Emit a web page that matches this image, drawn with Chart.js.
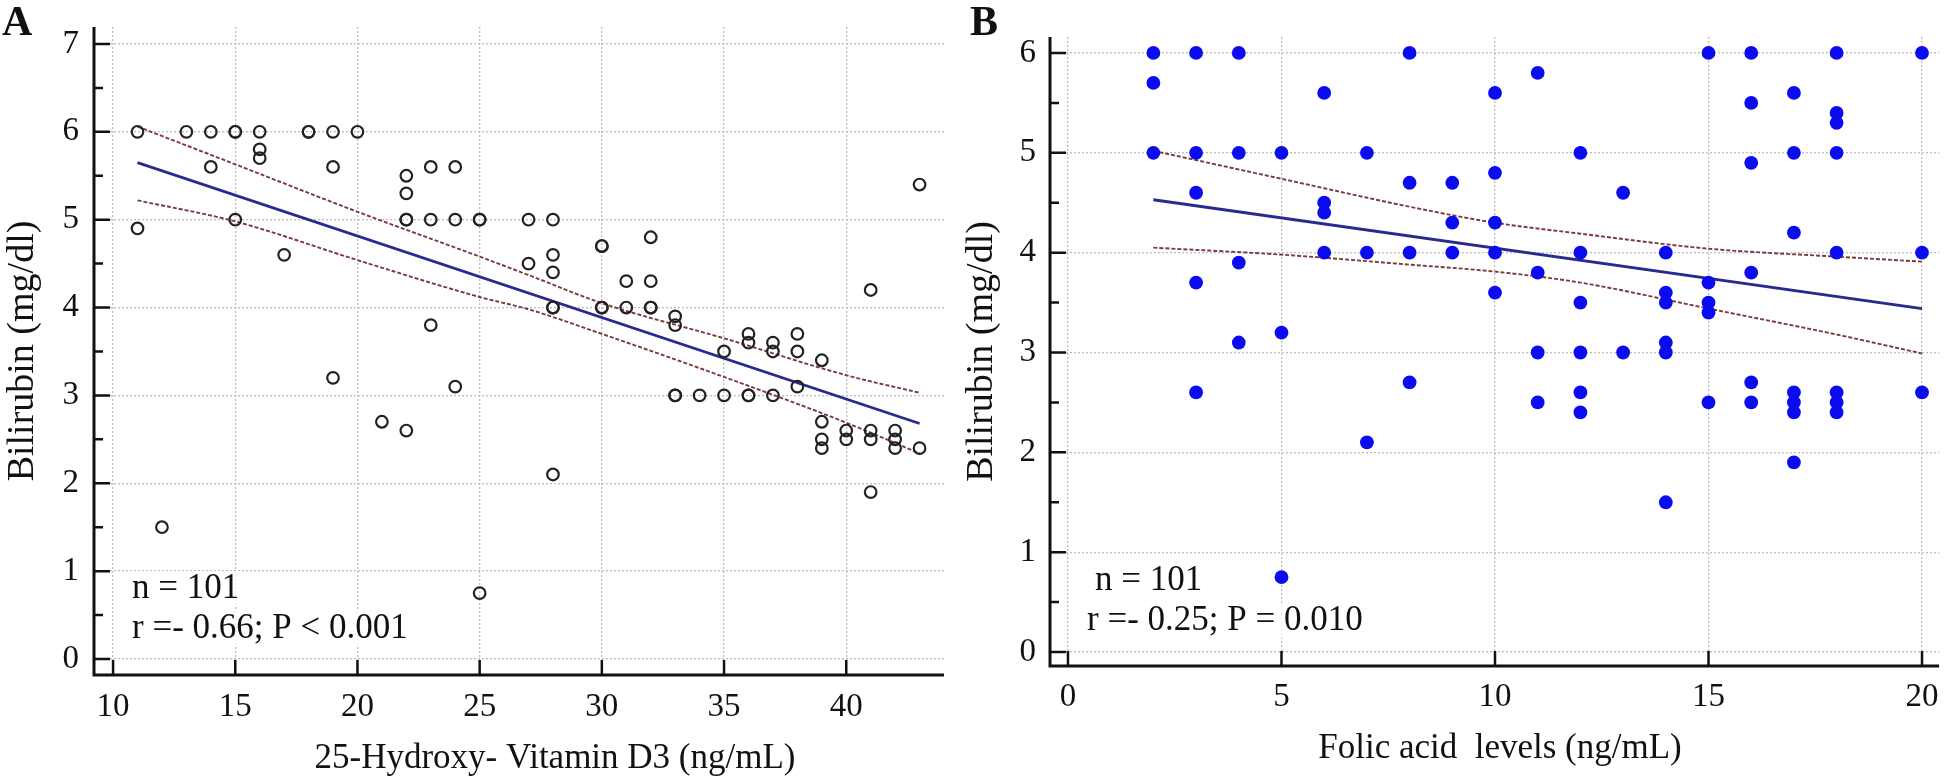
<!DOCTYPE html>
<html>
<head>
<meta charset="utf-8">
<script src="https://cdn.jsdelivr.net/npm/chart.js@4.4.1/dist/chart.umd.min.js"></script>
<style>
  html, body { margin: 0; padding: 0; background: #fff; }
  #wrap { position: relative; width: 1946px; height: 780px; }
  .panel { position: absolute; top: 0; height: 780px; }
  #panel-a { left: 0; width: 960px; }
  #panel-b { left: 960px; width: 986px; }
</style>
</head>
<body>
<div id="wrap">
  <div class="panel" id="panel-a"><canvas id="chart-a"></canvas></div>
  <div class="panel" id="panel-b"><canvas id="chart-b"></canvas></div>
</div>
<script>
// ---- panel A : 25-OH vitamin D3 vs bilirubin ----
// last ten entries are repeats that sit on top of an existing circle
const vitD = [11,11,12,13,14,14,15,15,16,16,16,17,18,19,19,19,20,21,22,22,22,22,23,23,23,24,24,24,25,25,
  27,27,28,28,28,28,28,30,30,31,31,32,32,32,33,33,33,34,35,35,36,36,36,37,37,37,38,38,38,
  39,39,39,39,40,40,41,41,41,41,42,42,42,43,43,
  15,18,22,25,28,30,30,32,33,36];
const biliA = [6,4.9,1.5,6,6,5.6,6,5,6,5.8,5.7,4.6,6,6,5.6,3.2,6,2.7,5.5,5.3,5,2.6,5.6,5,3.8,5.6,5,3.1,5,0.75,
  5,4.5,5,4.6,4.4,4,2.1,4.7,4,4.3,4,4.8,4.3,4,3.9,3.8,3,3,3.5,3,3.7,3.6,3,3.6,3.5,3,3.7,3.5,3.1,
  3.4,2.7,2.5,2.4,2.6,2.5,4.2,2.6,2.5,1.9,2.6,2.5,2.4,5.4,2.4,
  6,6,5,5,4,4.7,4,4,3,3];
const regXA = [11, 43];
const regYA = [5.65, 2.68];
const bandXA = [11, 15, 20, 25, 27, 30, 35, 40, 43];
const upperA = [6.06, 5.63, 5.09, 4.58, 4.37, 4.05, 3.65, 3.23, 3.03];
const lowerA = [5.22, 4.98, 4.54, 4.12, 3.98, 3.70, 3.21, 2.69, 2.34];
const xTicksA = [10, 15, 20, 25, 30, 35, 40];
const yTicksA = [0, 1, 2, 3, 4, 5, 6, 7];

// ---- panel B : folic acid vs bilirubin ----
const folic = [2,2,2, 3,3,3,3,3, 4,4,4,4, 5,5,5, 6,6,6,6, 7,7,7, 8,8,8,8, 9,9,9, 10,10,10,10,10,
  11,11,11,11, 12,12,12,12,12,12, 13,13, 14,14,14,14,14,14, 15,15,15,15,15, 16,16,16,16,16,16,
  17,17,17,17,17,17,17, 18,18,18,18,18,18,18,18, 20,20,20];
const biliB = [6,5.7,5, 6,5,4.6,3.7,2.6, 6,5,3.9,3.1, 5,3.2,0.75, 5.6,4.5,4.4,4, 5,4,2.1, 6,4.7,4,2.7, 4.7,4.3,4,
  5.6,4.8,4.3,4,3.6, 5.8,3.8,3,2.5, 5,4,3.5,3,2.6,2.4, 4.6,3, 4,3.6,3.5,3.1,3,1.5, 6,3.7,3.5,3.4,2.5,
  6,5.5,4.9,3.8,2.7,2.5, 5.6,5,4.2,2.6,2.5,2.4,1.9, 6,5.4,5.3,5,4,2.6,2.5,2.4, 6,4,2.6];
const regXB = [2, 20];
const regYB = [4.53, 3.44];
const bandXB = [2, 5, 8, 10, 12, 15, 18, 20];
const upperB = [5.02, 4.74, 4.46, 4.30, 4.19, 4.04, 3.96, 3.91];
const lowerB = [4.05, 3.98, 3.88, 3.81, 3.70, 3.44, 3.18, 2.99];
const xTicksB = [0, 5, 10, 15, 20];
const yTicksB = [0, 1, 2, 3, 4, 5, 6];

const SERIF = "'Liberation Serif', 'Times New Roman', serif";
const pairs = (xs, ys) => xs.map((x, i) => ({x: x, y: ys[i]}));

// axis lines, inward ticks and the free text of each panel
const framePlugin = {
  id: 'frame',
  afterDraw(chart, args, o) {
    const {ctx, chartArea: a} = chart;
    const x = chart.scales.x, y = chart.scales.y;
    ctx.save();
    ctx.strokeStyle = '#111';
    ctx.lineWidth = 3;
    ctx.beginPath();
    ctx.moveTo(a.left, a.top);
    ctx.lineTo(a.left, a.bottom);
    ctx.lineTo(a.right, a.bottom);
    ctx.stroke();

    ctx.lineWidth = 2.5;
    ctx.beginPath();
    o.yTicks.forEach(v => {
      const p = y.getPixelForValue(v);
      ctx.moveTo(a.left, p); ctx.lineTo(a.left + 16, p);
    });
    o.yTicks.slice(0, -1).forEach(v => {
      const p = y.getPixelForValue(v + 0.5);
      ctx.moveTo(a.left, p); ctx.lineTo(a.left + 9, p);
    });
    o.xTicks.forEach(v => {
      const p = x.getPixelForValue(v);
      ctx.moveTo(p, a.bottom); ctx.lineTo(p, a.bottom - 15);
    });
    ctx.stroke();

    ctx.fillStyle = '#111';
    ctx.textBaseline = 'alphabetic';
    // panel letter
    ctx.font = 'bold 42px ' + SERIF;
    ctx.textAlign = 'left';
    ctx.fillText(o.letter.text, o.letter.x, o.letter.y);
    // x axis title
    ctx.font = '35px ' + SERIF;
    ctx.textAlign = 'center';
    ctx.fillText(o.xTitle.text, o.xTitle.x, o.xTitle.y);
    // n / r annotation
    ctx.font = '35px ' + SERIF;
    ctx.textAlign = 'left';
    o.notes.forEach(n => {
      const w = ctx.measureText(n.text).width;
      ctx.fillStyle = 'rgba(255,255,255,0.75)';
      ctx.fillRect(n.x - 2, n.y - 27, w + 4, 35);
      ctx.fillStyle = '#111';
      ctx.fillText(n.text, n.x, n.y);
    });
    ctx.restore();
  }
};

function makeChart(id, c) {
  return new Chart(document.getElementById(id), {
    type: 'scatter',
    data: {
      datasets: [
        {
          data: pairs(c.px, c.py),
          pointRadius: c.pointRadius,
          pointBackgroundColor: c.pointFill,
          pointBorderColor: c.pointEdge,
          pointBorderWidth: c.pointEdgeWidth,
          clip: false
        },
        {
          data: pairs(c.regX, c.regY),
          showLine: true, pointRadius: 0,
          borderColor: '#2a2a8e', borderWidth: 2.8
        },
        {
          data: pairs(c.bandX, c.upper),
          showLine: true, pointRadius: 0, cubicInterpolationMode: 'monotone',
          borderColor: '#7d3a3a', borderWidth: 1.9, borderDash: [4, 2]
        },
        {
          data: pairs(c.bandX, c.lower),
          showLine: true, pointRadius: 0, cubicInterpolationMode: 'monotone',
          borderColor: '#7d3a3a', borderWidth: 1.9, borderDash: [4, 2]
        }
      ]
    },
    options: {
      responsive: true,
      maintainAspectRatio: false,
      animation: false,
      events: [],
      layout: { padding: { left: 0, top: c.top, right: c.right, bottom: 0 } },
      plugins: {
        legend: { display: false },
        tooltip: { enabled: false },
        frame: {
          xTicks: c.xTicks, yTicks: c.yTicks,
          letter: c.letter, xTitle: c.xTitle, notes: c.notes
        }
      },
      scales: {
        x: {
          type: 'linear',
          min: c.xMin, max: c.xMax,
          afterBuildTicks: s => { s.ticks = c.xTicks.map(v => ({value: v})); },
          afterFit: s => { s.height = c.xAxisHeight; s.paddingLeft = 0; s.paddingRight = 0; },
          grid: { color: '#bdbdbd', lineWidth: 1.3, drawTicks: false },
          border: { display: false, dash: [2, 2] },
          ticks: {
            padding: c.xPad, maxRotation: 0, autoSkip: false,
            color: '#111', font: { family: SERIF, size: 33, lineHeight: 1 },
            callback: v => String(v)
          }
        },
        y: {
          type: 'linear',
          min: c.yMin, max: c.yMax,
          afterBuildTicks: s => { s.ticks = c.yTicks.map(v => ({value: v})); },
          afterFit: s => { s.width = c.yAxisWidth; s.paddingTop = 0; s.paddingBottom = 0; },
          grid: { color: '#bdbdbd', lineWidth: 1.3, drawTicks: false },
          border: { display: false, dash: [2, 2] },
          ticks: {
            padding: c.yPad, autoSkip: false,
            color: '#111', font: { family: SERIF, size: 33, lineHeight: 1 },
            callback: v => String(v)
          },
          title: {
            display: true, text: 'Bilirubin (mg/dl)', color: '#111',
            font: { family: SERIF, size: 38, lineHeight: 1 },
            padding: { top: c.titlePad, bottom: c.titlePad }
          }
        }
      }
    },
    plugins: [framePlugin]
  });
}

makeChart('chart-a', {
  px: vitD, py: biliA,
  pointRadius: 5.8, pointFill: 'rgba(0,0,0,0)', pointEdge: '#222', pointEdgeWidth: 2.2,
  regX: regXA, regY: regYA, bandX: bandXA, upper: upperA, lower: lowerA,
  xTicks: xTicksA, yTicks: yTicksA,
  xMin: 9.22, xMax: 44.0, yMin: -0.182, yMax: 7.193,
  top: 27, right: 16, xAxisHeight: 105, yAxisWidth: 94,
  xPad: 16, yPad: 15, titlePad: 4,
  letter: { text: 'A', x: 2, y: 35 },
  xTitle: { text: '25-Hydroxy- Vitamin D3 (ng/mL)', x: 555, y: 768 },
  notes: [
    { text: 'n = 101', x: 132, y: 598 },
    { text: 'r =- 0.66; P < 0.001', x: 132, y: 638 }
  ]
});

makeChart('chart-b', {
  px: folic, py: biliB,
  pointRadius: 6.9, pointFill: '#0b0bef', pointEdge: '#0b0bef', pointEdgeWidth: 0,
  regX: regXB, regY: regYB, bandX: bandXB, upper: upperB, lower: lowerB,
  xTicks: xTicksB, yTicks: yTicksB,
  xMin: -0.421, xMax: 20.40, yMin: -0.14, yMax: 6.16,
  top: 37, right: 6, xAxisHeight: 114, yAxisWidth: 90,
  xPad: 15, yPad: 14, titlePad: 3,
  letter: { text: 'B', x: 10, y: 35 },
  xTitle: { text: 'Folic acid  levels (ng/mL)', x: 540, y: 758 },
  notes: [
    { text: 'n = 101', x: 135, y: 590 },
    { text: 'r =- 0.25; P = 0.010', x: 127, y: 630 }
  ]
});
</script>
</body>
</html>
